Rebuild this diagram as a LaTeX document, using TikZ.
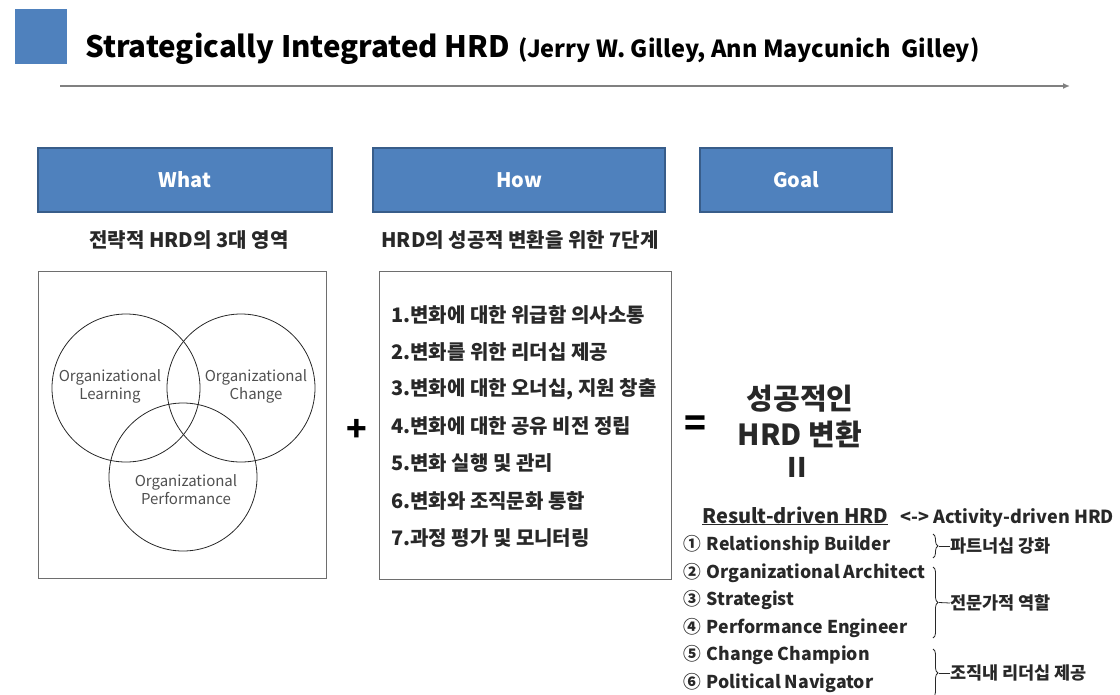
\documentclass[tikz,border=0pt]{standalone}
\usepackage{fontspec}
\setmainfont{Noto Sans CJK KR}
\usetikzlibrary{arrows.meta,positioning,decorations.pathreplacing}
\definecolor{hdrblue}{RGB}{79,129,189}
\definecolor{hdrline}{RGB}{56,93,138}
\definecolor{framegray}{RGB}{110,110,110}
\definecolor{inkgray}{RGB}{40,40,40}
\definecolor{venngray}{RGB}{80,80,80}

\begin{document}
\begin{tikzpicture}[x=1pt,y=-1pt]
  \tikzstyle{hdr}=[rectangle,draw=hdrline,line width=1.5pt,fill=hdrblue,text=white,minimum height=64pt,inner sep=0pt,font=\fontsize{20}{24}\selectfont\bfseries]
  \tikzstyle{sub}=[inner sep=0pt,text=inkgray,font=\fontsize{20}{24}\selectfont\bfseries]
  \tikzstyle{frame}=[rectangle,draw=framegray,line width=1pt,inner sep=0pt]
  \tikzstyle{venn}=[circle,draw=inkgray,line width=0.8pt,minimum size=148pt,inner sep=0pt]
  \tikzstyle{vennlabel}=[align=center,text=venngray,font=\fontsize{15}{18}\selectfont]
  \tikzstyle{stepitem}=[anchor=west,inner sep=0pt,text=inkgray,font=\fontsize{20}{24}\selectfont\bfseries]
  \tikzstyle{role}=[anchor=west,inner sep=0pt,text=inkgray,font=\fontsize{17.7}{20}\selectfont\bfseries]
  \tikzstyle{rolegroup}=[anchor=west,inner sep=0pt,text=inkgray,font=\fontsize{17.5}{20}\selectfont\bfseries]
  \tikzstyle{rolebrace}=[draw=inkgray,line width=0.8pt,decorate,decoration={brace,amplitude=5pt}]
  \useasboundingbox (0,0) rectangle (1120,694);

  % title bar
  \fill[hdrblue] (15,9) rectangle (67,64);
  \node[anchor=base west,inner sep=0pt,font=\fontsize{29.5}{36}\selectfont\bfseries] (title) at (85,57) {Strategically Integrated HRD};
  \node[anchor=base west,inner sep=0pt,font=\fontsize{23.5}{28}\selectfont\bfseries] (authors) at (518,57) {(Jerry W. Gilley, Ann Maycunich\ \ Gilley)};
  \coordinate (tl-start) at (60,86);
  \coordinate (tl-end) at (1070,86);
  \draw[gray,line width=1.5pt,-{Latex[length=7pt,width=6pt]}] (tl-start) -- (tl-end);

  % column headers
  \node[hdr,minimum width=294pt] (what) at (185,180) {What};
  \node[hdr,minimum width=292pt] (how) at (519,180) {How};
  \node[hdr,minimum width=192pt] (goal) at (796,180) {Goal};
  \node[sub] (what-sub) at (189,240) {전략적 HRD의 3대 영역};
  \node[sub] (how-sub) at (520,240) {HRD의 성공적 변환을 위한 7단계};

  % three areas
  \node[frame,minimum width=288pt,minimum height=307pt] (areas) at (182,424.5) {};
  \node[venn] (learning) at (126,388) {};
  \node[venn] (change) at (241,388) {};
  \node[venn] (performance) at (183,477) {};
  \node[vennlabel] (learning-txt) at (110,386) {Organizational\\Learning};
  \node[vennlabel] (change-txt) at (256,386) {Organizational\\Change};
  \node[vennlabel] (performance-txt) at (186,490) {Organizational\\Performance};

  \node[font=\fontsize{34}{34}\selectfont\bfseries] (plus) at (357,430) {+};

  % seven steps
  \node[frame,minimum width=292pt,minimum height=308pt] (steps) at (525,425) {};
  \foreach \txt [count=\i] in {1.변화에 대한 위급함 의사소통,2.변화를 위한 리더십 제공,{3.변화에 대한 오너십, 지원 창출},4.변화에 대한 공유 비전 정립,5.변화 실행 및 관리,6.변화와 조직문화 통합,7.과정 평가 및 모니터링}
    \node[stepitem] (step\i) at (391,277.5+37.2*\i) {\txt};

  % goal
  \node[font=\fontsize{36}{36}\selectfont\bfseries] (equals) at (695,426) {=};
  \node[align=center,text=inkgray,font=\fontsize{29}{36}\selectfont\bfseries] (result) at (800,416) {성공적인\\HRD 변환};
  \node[text=inkgray,font=\fontsize{27}{27}\selectfont\bfseries] (same) at (797,467) {II};
  \node[anchor=base west,inner sep=0pt,text=inkgray,font=\fontsize{20}{24}\selectfont\bfseries] (rdriven) at (702,523) {\underline{Result-driven HRD}};
  \node[anchor=base west,inner sep=0pt,text=inkgray,font=\fontsize{18}{22}\selectfont\bfseries] (adriven) at (900,523) {<-> Activity-driven HRD};

  % HRD roles
  \foreach \num/\txt [count=\i] in {①/Relationship Builder,②/Organizational Architect,③/Strategist,④/Performance Engineer,⑤/Change Champion,⑥/Political Navigator}
    \node[role] (role\i) at (683,517.4+27.6*\i) {\num\hspace{6pt}\txt};
  \node[rolegroup] (partner) at (950,546) {파트너십 강화};
  \node[rolegroup] (expert) at (950,603) {전문가적 역할};
  \node[rolegroup] (leader) at (950,673) {조직내 리더십 제공};
  \coordinate (b1-top) at (933,534);
  \coordinate (b1-bot) at (933,558);
  \coordinate (b2-top) at (933,567);
  \coordinate (b2-bot) at (933,638);
  \coordinate (b3-top) at (933,649);
  \coordinate (b3-bot) at (933,697);
  \draw[rolebrace] (b1-top) -- (b1-bot);
  \draw[rolebrace] (b2-top) -- (b2-bot);
  \draw[rolebrace] (b3-top) -- (b3-bot);
  \coordinate (b1-tip) at (939,546);
  \coordinate (b2-tip) at (939,602.5);
  \coordinate (b3-tip) at (939,673);
  \draw[inkgray,line width=0.8pt] (b1-tip) -- (partner.west);
  \draw[inkgray,line width=0.8pt] (b2-tip) -- (expert.west);
  \draw[inkgray,line width=0.8pt] (b3-tip) -- (leader.west);
\end{tikzpicture}
\end{document}
